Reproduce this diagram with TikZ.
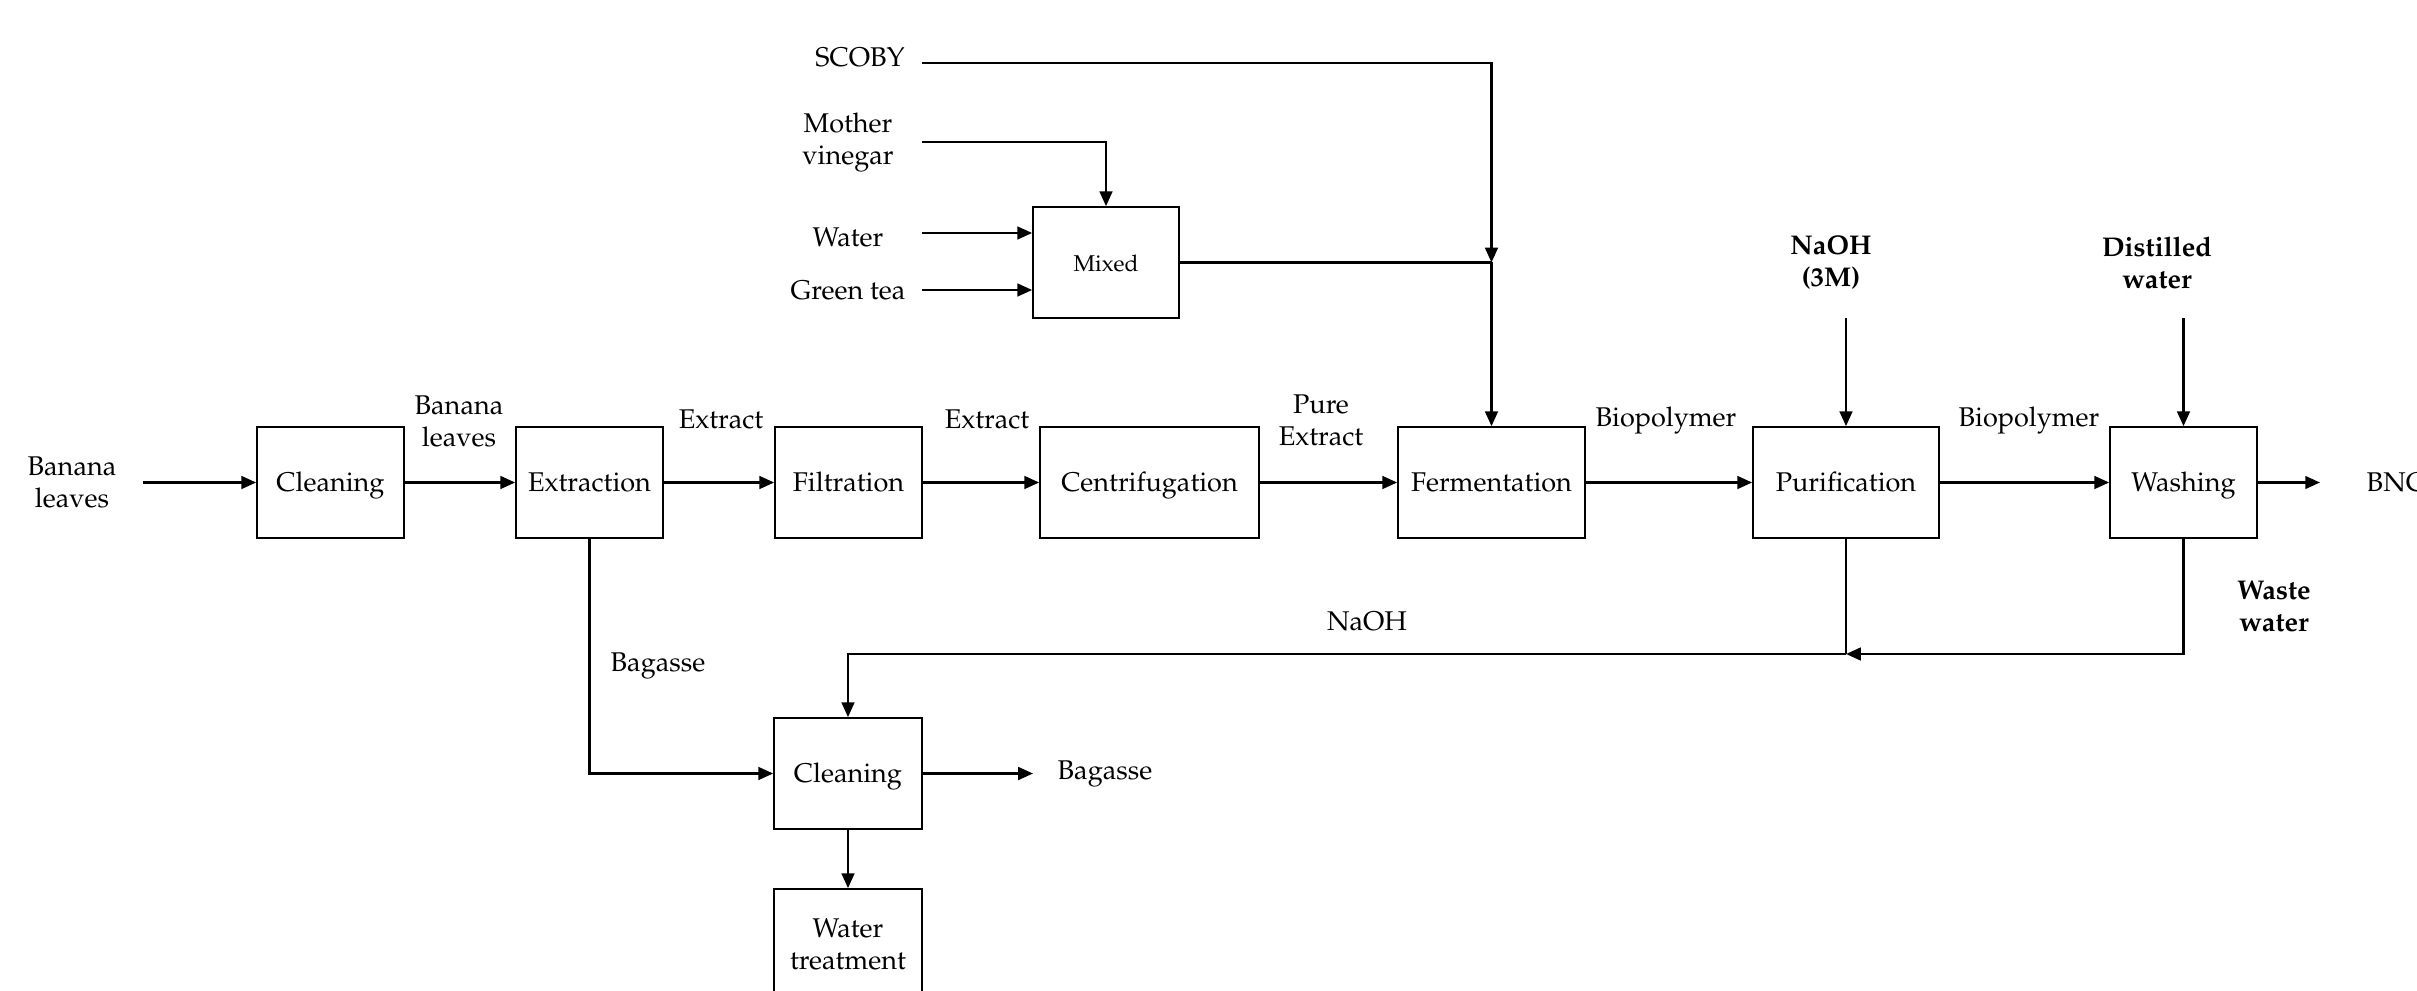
\documentclass[tikz,border=0pt]{standalone}
\usepackage[T1]{fontenc}
\renewcommand{\rmdefault}{ppl}
\usetikzlibrary{arrows.meta}
\begin{document}
\begin{tikzpicture}[x=0.01cm,y=-0.01cm,
  txt/.style={font=\fontsize{7.7}{9.1}\selectfont,align=center,inner sep=0pt},
  btxt/.style={font=\fontsize{7.7}{9.1}\selectfont\bfseries,align=center,inner sep=0pt},
  box/.style={draw,line width=0.45pt,inner sep=0pt,minimum height=1.11cm,align=center,font=\fontsize{7.7}{9.1}\selectfont},
  oneline/.style={text height=1.55ex,text depth=0.45ex},
  conn/.style={line width=0.7pt},
  arr/.style={line width=0.7pt,-{Triangle[length=4.2pt,width=3.6pt]}}]
\useasboundingbox (0,0) rectangle (2417,991);
\clip (0,0) rectangle (2417,991);
% main row
\node[box,oneline,minimum width=1.47cm] (clean1) at (330.5,482.5) {Cleaning};
\node[box,oneline,minimum width=1.47cm] (extr) at (589.5,482.5) {Extraction};
\node[box,oneline,minimum width=1.47cm] (filt) at (848.5,482.5) {Filtration};
\node[box,oneline,minimum width=2.19cm] (cent) at (1149.5,482.5) {Centrifugation};
\node[box,oneline,minimum width=1.87cm] (ferm) at (1491.5,482.5) {Fermentation};
\node[box,oneline,minimum width=1.86cm] (puri) at (1846,482.5) {Purification};
\node[box,oneline,minimum width=1.47cm] (wash) at (2183.5,482.5) {Washing};
\node[box,oneline,minimum width=1.46cm,font=\fontsize{6.5}{7.8}\selectfont] (mixed) at (1106,262.5) {Mixed};
\node[box,oneline,minimum width=1.48cm] (clean2) at (848,773.5) {Cleaning};
\node[box,minimum width=1.48cm] (wtreat) at (848,944.5) {Water\\treatment};
% labels
\node[txt] (bl1) at (72,482) {Banana\\leaves};
\node[txt] (bl2) at (459,421) {Banana\\leaves};
\node[txt] (ex1) at (721,419) {Extract};
\node[txt] (ex2) at (987,419) {Extract};
\node[txt] (pe) at (1321,420) {Pure\\Extract};
\node[txt] (bp1) at (1666,421) {Biopolymer};
\node[txt] (bp2) at (2029,421) {Biopolymer};
\node[txt,anchor=west] (bnc) at (2366,482.5) {BNC};
\node[txt] (scoby) at (860,57) {SCOBY};
\node[txt] (mv) at (848,143) {Mother\\vinegar};
\node[txt] (water) at (848,237) {Water};
\node[txt] (gtea) at (848,290) {Green tea};
\node[btxt] (naoh3) at (1831,263) {NaOH\\(3M)};
\node[btxt] (dw) at (2157,263) {Distilled\\water};
\node[txt] (naoh) at (1367,621) {NaOH};
\node[btxt] (ww) at (2274,606) {Waste\\water};
\node[txt] (bag1) at (658,666) {Bagasse};
\node[txt] (bag2) at (1105,773.5) {Bagasse};
% coordinates
\coordinate (blS) at (143,482.5);
\coordinate (bncE) at (2320,482.5);
\coordinate (scS) at (922,63);
\coordinate (jn) at (1491.5,262.5);
\coordinate (mvS) at (922,142);
\coordinate (wS) at (922,233);
\coordinate (gS) at (922,290);
\coordinate (naS) at (1846,318);
\coordinate (dwS) at (2183.5,318);
\coordinate (rj) at (1846,654);
\coordinate (wc) at (2183.5,654);
\coordinate (bagE) at (1033,773.5);
% main flow
\draw[arr] (blS) -- (clean1.west);
\draw[arr] (clean1) -- (extr);
\draw[arr] (extr) -- (filt);
\draw[arr] (filt) -- (cent);
\draw[arr] (cent) -- (ferm);
\draw[arr] (ferm) -- (puri);
\draw[arr] (puri) -- (wash);
\draw[arr] (wash.east) -- (bncE);
% top inputs
\draw[arr] (scS) -| (jn);
\draw[arr] (jn) -- (ferm.north);
\draw[arr] (mvS) -| (mixed.north);
\draw[arr] (wS) -- (wS -| mixed.west);
\draw[arr] (gS) -- (gS -| mixed.west);
\draw[conn] (mixed.east) -- (jn);
\draw[arr] (naS) -- (puri.north);
\draw[arr] (dwS) -- (wash.north);
% returns
\draw[conn] (puri.south) -- (rj);
\draw[arr] (wash.south) -- (wc) -- (rj);
\draw[arr] (rj) -| (clean2.north);
\draw[arr] (extr.south) |- (clean2.west);
\draw[arr] (clean2.east) -- (bagE);
\draw[arr] (clean2.south) -- (wtreat.north);
\end{tikzpicture}
\end{document}
